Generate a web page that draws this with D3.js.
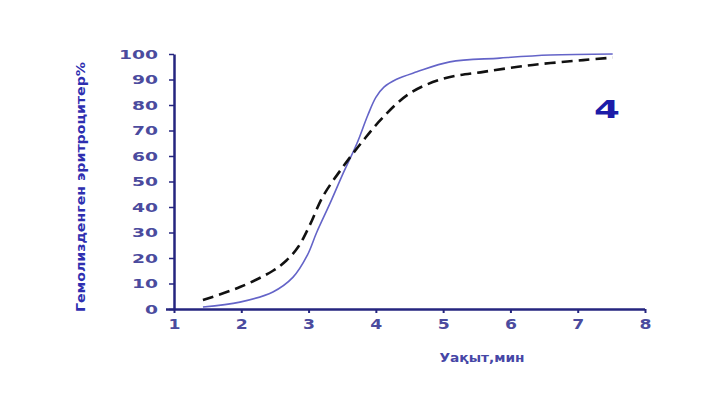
<!DOCTYPE html>
<html>
<head>
<meta charset="utf-8">
<script src="https://cdn.jsdelivr.net/npm/d3@7"></script>
<style>
  body { margin: 0; background: #fff; }
  text { font-family: "DejaVu Sans", Verdana, sans-serif; font-weight: bold; }
</style>
</head>
<body>
<div id="chart"></div>
<script>
// values
const xTicks = [1, 2, 3, 4, 5, 6, 7, 8];
const yTicks = [0, 10, 20, 30, 40, 50, 60, 70, 80, 90, 100];

const solidTime = [1.43, 1.98, 2.47, 2.77, 2.98, 3.12, 3.32, 3.51, 3.72, 3.88, 4.0, 4.12, 4.3, 4.61, 5.1, 5.84, 6.59, 7.52];
const solidPct  = [0.8, 2.7, 6.7, 12.5, 21, 30, 41.5, 53, 65, 76, 83, 87, 90, 93, 96.9, 98.4, 99.6, 100];

const dashTime = [1.43, 1.98, 2.47, 2.67, 2.85, 3.02, 3.21, 3.51, 3.81, 4.1, 4.5, 5.0, 5.6, 6.33, 7.08, 7.52];
const dashPct  = [3.5, 8.6, 15, 19, 24.5, 33, 44, 55.7, 66, 75, 84.5, 90.3, 93, 95.7, 97.6, 98.6];

const width = 704, height = 403;
const margin = {left: 174, right: 59, top: 54, bottom: 94};

const svg = d3.select("#chart").append("svg")
  .attr("width", width)
  .attr("height", height);

const x = d3.scaleLinear().domain([1, 8]).range([margin.left, width - margin.right]);
const y = d3.scaleLinear().domain([0, 100]).range([height - margin.bottom, margin.top]);

const axisColor = "#25257f";
const labelColor = "#4b4b9e";

// x axis
const gx = svg.append("g")
  .attr("transform", `translate(0,${y(0)})`)
  .call(d3.axisBottom(x).tickValues(xTicks).tickFormat(d3.format("d"))
    .tickSize(4).tickPadding(6).tickSizeOuter(0));
gx.select(".domain").attr("stroke", axisColor).attr("stroke-width", 2.5)
  .attr("d", `M${x(1) - 8},0.5H${x(8)}`);
gx.selectAll(".tick line").attr("stroke", axisColor).attr("stroke-width", 2);
gx.selectAll(".tick text")
  .attr("fill", labelColor).attr("font-size", 14)
  .attr("textLength", 12).attr("lengthAdjust", "spacingAndGlyphs");

// y axis
const gy = svg.append("g")
  .attr("transform", `translate(${x(1)},0)`)
  .call(d3.axisLeft(y).tickValues(yTicks).tickSize(5).tickPadding(11).tickSizeOuter(0));
gy.select(".domain").attr("stroke", axisColor).attr("stroke-width", 2.5);
gy.selectAll(".tick line").attr("stroke", axisColor).attr("stroke-width", 1.5);
gy.selectAll(".tick text")
  .attr("fill", labelColor).attr("font-size", 13)
  .attr("textLength", d => String(d).length * 13).attr("lengthAdjust", "spacingAndGlyphs");

// curves
const line = d3.line()
  .x(d => x(d[0]))
  .y(d => y(d[1]))
  .curve(d3.curveCatmullRom.alpha(0.5));

svg.append("path")
  .datum(d3.zip(solidTime, solidPct))
  .attr("fill", "none")
  .attr("stroke", "#6464c8")
  .attr("stroke-width", 1.6)
  .attr("d", line);

svg.append("path")
  .datum(d3.zip(dashTime, dashPct))
  .attr("fill", "none")
  .attr("stroke", "#111")
  .attr("stroke-width", 2.6)
  .attr("stroke-dasharray", "11,6")
  .attr("d", line);

// labels
svg.append("text")
  .attr("x", 607).attr("y", 118)
  .attr("text-anchor", "middle")
  .attr("fill", "#1c1ca8")
  .attr("font-size", 24)
  .attr("textLength", 26).attr("lengthAdjust", "spacingAndGlyphs")
  .text("4");

svg.append("text")
  .attr("x", 482).attr("y", 362)
  .attr("text-anchor", "middle")
  .attr("fill", "#4646a6")
  .attr("font-size", 12)
  .attr("textLength", 85).attr("lengthAdjust", "spacingAndGlyphs")
  .text("Уақыт,мин");

svg.append("text")
  .attr("transform", `translate(85,187) rotate(-90)`)
  .attr("text-anchor", "middle")
  .attr("fill", "#2e2eb0")
  .attr("font-size", 12)
  .attr("textLength", 250).attr("lengthAdjust", "spacingAndGlyphs")
  .text("Гемолизденген эритроцитер%");
</script>
</body>
</html>
